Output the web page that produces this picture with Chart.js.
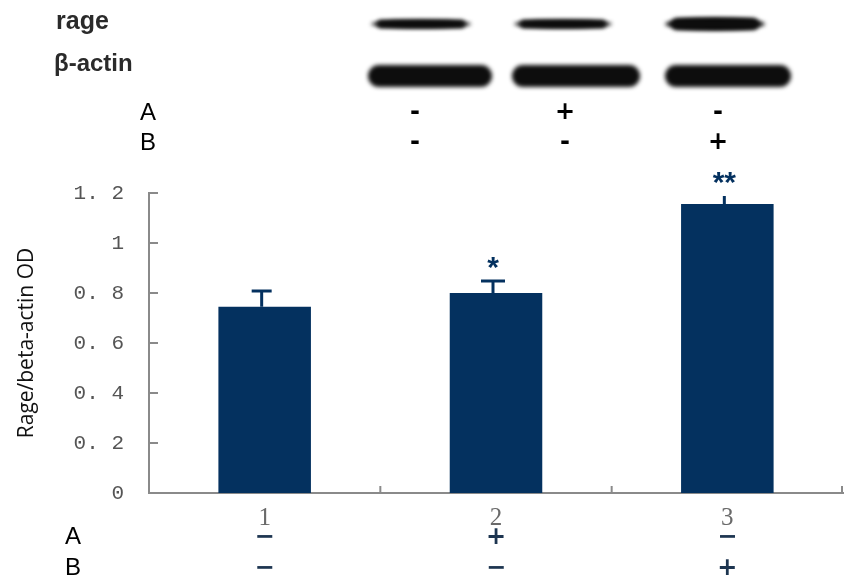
<!DOCTYPE html>
<html><head><meta charset="utf-8">
<script src="https://cdn.jsdelivr.net/npm/chart.js@4.4.1/dist/chart.umd.min.js"></script>
<style>html,body{margin:0;padding:0;background:#fff}#wrap{width:846px;height:588px;position:relative}</style>
</head><body><div id="wrap"><canvas id="c" width="846" height="588"></canvas></div>
<script>
// ---- data ----
const categories = ['1', '2', '3'];
const ratioOD = [0.745, 0.80, 1.156];
const errorSD = [0.063, 0.048, 0.032];
const significance = ['', '*', '**'];
const treatmentA = ['−', '+', '−'];
const treatmentB = ['−', '−', '+'];
const blotA = ['-', '+', '-'];
const blotB = ['-', '-', '+'];
const yTickLabels = ['0', '0. 2', '0. 4', '0. 6', '0. 8', '1', '1. 2'];
const blotRows = ['rage', 'β-actin'];

// ---- styles / layout ----
const NAVY = '#04315f';
const AXIS = '#8a8a8a';
const capWidths = [20, 24, 0];
const blotLanes = [ // x-centres of blot lanes and band half widths
  {rage: [421, 50], actin: [430, 62]},
  {rage: [563, 49], actin: [576, 64]},
  {rage: [715, 50], actin: [728, 63]}
];
const blotSignX = [415, 565, 718];

const overlay = {
  id: 'overlay',
  afterDraw(chart) {
    const ctx = chart.ctx;
    const xs = chart.scales.x, ys = chart.scales.y;
    const area = chart.chartArea;
    const meta = chart.getDatasetMeta(0);
    ctx.save();
    // inner ticks on axes
    ctx.strokeStyle = AXIS; ctx.lineWidth = 2;
    ys.ticks.forEach((t, i) => {
      const y = Math.round(ys.getPixelForTick(i));
      ctx.beginPath(); ctx.moveTo(area.left, y); ctx.lineTo(area.left + 9, y); ctx.stroke();
    });
    for (let i = 1; i <= categories.length; i++) {
      const x = i < categories.length ? (xs.getPixelForValue(i - 1) + xs.getPixelForValue(i)) / 2 : area.right - 1;
      ctx.beginPath(); ctx.moveTo(x, area.bottom); ctx.lineTo(x, area.bottom - 7); ctx.stroke();
    }
    // error bars and stars
    meta.data.forEach((el, i) => {
      const top = ys.getPixelForValue(ratioOD[i] + errorSD[i]);
      ctx.strokeStyle = NAVY; ctx.lineWidth = 3;
      ctx.beginPath(); ctx.moveTo(el.x - 3, el.y); ctx.lineTo(el.x - 3, top); ctx.stroke();
      if (capWidths[i] > 0) {
        ctx.beginPath(); ctx.moveTo(el.x - 3 - capWidths[i] / 2, top); ctx.lineTo(el.x - 3 + capWidths[i] / 2, top); ctx.stroke();
      }
      ctx.fillStyle = NAVY;
      ctx.font = 'bold 30px "Liberation Sans"';
      ctx.textAlign = 'center'; ctx.textBaseline = 'middle';
      if (significance[i]) ctx.fillText(significance[i], el.x - 3, top - 12);
      // treatment rows under x axis
      ctx.font = 'bold 24px "DejaVu Sans"';
      ctx.fillStyle = '#1d3550';
      ctx.fillText(treatmentA[i], el.x, 538);
      ctx.fillText(treatmentB[i], el.x, 569);
    });
    // row labels A / B
    ctx.fillStyle = '#000';
    ctx.font = '24px "Liberation Sans Narrow", "Liberation Sans"';
    ctx.textAlign = 'center'; ctx.textBaseline = 'middle';
    ctx.fillText('A', 73, 537);
    ctx.fillText('B', 73, 568);
    ctx.fillText('A', 148, 113);
    ctx.fillText('B', 148, 143);
    // blot signs
    ctx.font = 'bold 24px "DejaVu Sans"';
    blotSignX.forEach((x, i) => {
      ctx.fillText(blotA[i], x, 113);
      ctx.fillText(blotB[i], x, 143);
    });
    // blot labels
    ctx.fillStyle = '#2a2a2a';
    ctx.font = 'bold 25px "Liberation Sans"';
    ctx.textAlign = 'left';
    ctx.fillText(blotRows[0], 56, 22);
    ctx.font = 'bold 24px "Liberation Sans"';
    ctx.fillText(blotRows[1], 54, 64);
    // blot bands
    ctx.filter = 'blur(2px)';
    ctx.fillStyle = '#0d0d0d';
    blotLanes.forEach((l, i) => {
      const rh = [4, 4, 6][i];
      ctx.beginPath(); ctx.ellipse(l.rage[0], 24, l.rage[1], rh, 0, 0, Math.PI * 2); ctx.fill();
      ctx.beginPath(); ctx.roundRect(l.rage[0] - l.rage[1] + 6, 24 - rh, 2 * l.rage[1] - 12, rh * 2, rh); ctx.fill();
      ctx.beginPath(); ctx.roundRect(l.actin[0] - l.actin[1], 65, 2 * l.actin[1], 22, 11); ctx.fill();
    });
    ctx.filter = 'none';
    ctx.restore();
  }
};

new Chart(document.getElementById('c'), {
  type: 'bar',
  data: {
    labels: categories,
    datasets: [{
      data: ratioOD,
      backgroundColor: NAVY,
      borderWidth: 0,
      barPercentage: 0.4,
      categoryPercentage: 1.0
    }]
  },
  options: {
    responsive: false,
    animation: false,
    devicePixelRatio: 1,
    layout: {padding: {top: 193, right: 3, left: 0, bottom: 0}},
    plugins: {legend: {display: false}, tooltip: {enabled: false}},
    scales: {
      x: {
        grid: {display: false},
        border: {display: true, color: AXIS, width: 2},
        ticks: {color: '#6a6a6a', font: {family: '"Liberation Serif"', size: 25}, padding: 2},
        afterFit(s) { s.height = 95; }
      },
      y: {
        min: 0, max: 1.2,
        grid: {display: false},
        border: {display: true, color: AXIS, width: 2},
        ticks: {stepSize: 0.2, color: '#555', font: {family: '"Liberation Mono"', size: 21}, padding: 17,
          callback: (v, i) => yTickLabels[i]},
        title: {display: true, text: 'Rage/beta-actin OD', color: '#111',
          font: {family: '"Open Sans"', size: 21}, padding: {top: 14, bottom: 0}},
        afterFit(s) { s.width = 149; }
      }
    }
  },
  plugins: [overlay]
});
</script></body></html>
